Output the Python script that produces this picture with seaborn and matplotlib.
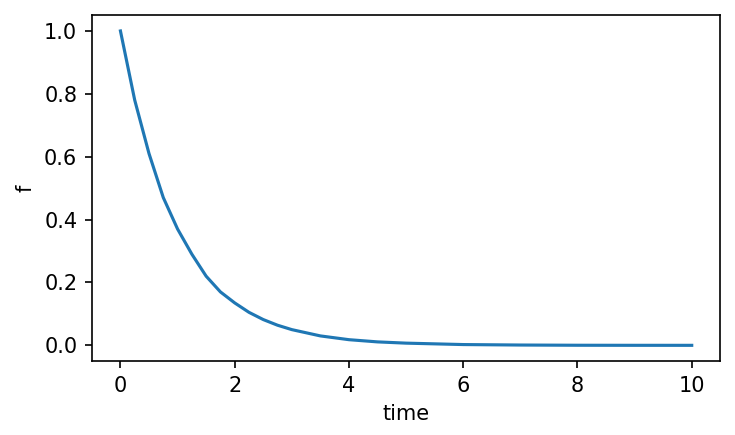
import matplotlib
matplotlib.use("Agg")
import matplotlib.pyplot as plt
import seaborn as sns
import pandas as pd

time = [0, 0.25, 0.5, 0.75, 1.0, 1.25, 1.5, 1.75, 2.0, 2.25, 2.5, 2.75, 3.0, 3.5, 4.0, 4.5, 5.0, 6.0, 7.0, 8.0, 9.0, 10.0]
f = [1.0, 0.78, 0.61, 0.47, 0.37, 0.29, 0.22, 0.17, 0.135, 0.105, 0.082, 0.064, 0.05, 0.03, 0.018, 0.011, 0.007, 0.0025, 0.001, 0.0003, 0.0001, 0.00005]

df = pd.DataFrame({"time": time, "f": f})
fig, ax = plt.subplots(figsize=(4.9, 2.9), dpi=150)
sns.lineplot(data=df, x="time", y="f", ax=ax)
fig.subplots_adjust(left=0.125, right=0.98, top=0.965, bottom=0.17)
fig.savefig("out.png", dpi=150)
